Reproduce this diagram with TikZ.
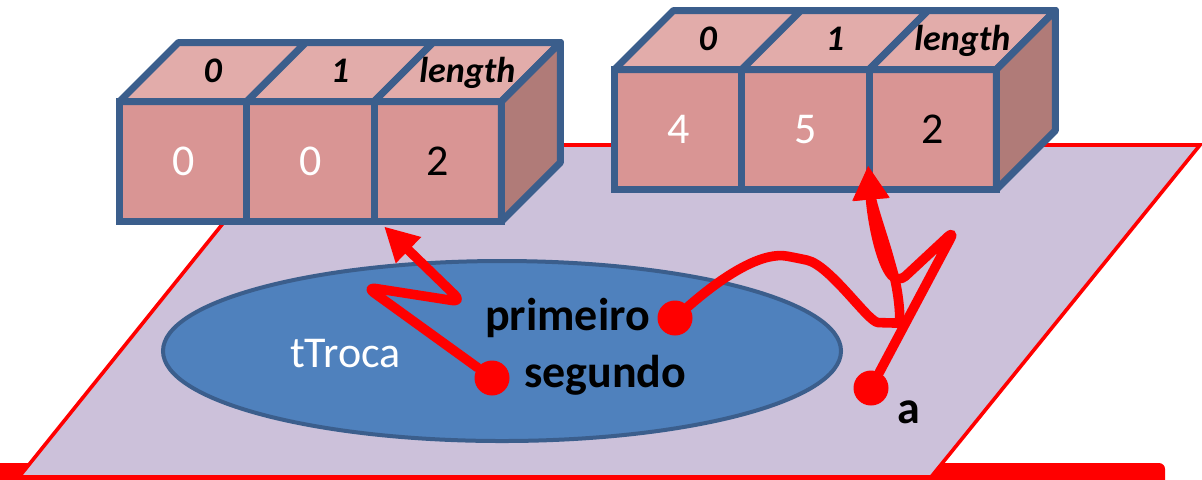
\documentclass[tikz,border=0pt]{standalone}
\usepackage{fontspec}
\setmainfont{Carlito}
\usepackage{xcolor}
\usepackage{tikz}
\usetikzlibrary{arrows.meta,shapes.geometric}
\definecolor{plano}{HTML}{CCC1DA}
\definecolor{azulElipse}{HTML}{4F81BD}
\definecolor{bordaAzul}{HTML}{3B5E8C}
\definecolor{frente}{HTML}{D99594}
\definecolor{topo}{HTML}{E2ACAA}
\definecolor{lateral}{HTML}{B07B78}
\tikzset{celula/.style={rectangle, draw=bordaAzul, fill=frente, line width=3.5pt, minimum width=63.65pt, minimum height=60pt, inner sep=0pt, outer sep=0pt, font=\fontsize{22}{26}\selectfont},
faceta/.style={draw=bordaAzul, fill=#1, line width=3.5pt, line join=round},
rotulo/.style={anchor=base, font=\fontsize{18}{22}\selectfont\bfseries\itshape},
%ponteiro: bolinha vermelha
ponto/.style={circle, fill=red, minimum size=17.5pt, inner sep=0pt},
seta/.style={draw=red, line width=4.8pt, line cap=round, line join=round, rounded corners=5pt, -{Triangle[length=17pt,width=17pt]}},
nome/.style={font=\fontsize{23}{27}\selectfont\bfseries}}

\begin{document}
\begin{tikzpicture}[x=0.5pt, y=-0.5pt]
\clip (0,0) rectangle (1202,479);
%\draw[step=50,color=gray] (0,0) grid (1202,479);
\fill[red, rounded corners=3pt] (-20,463) rectangle (1165,500);
\draw[red, line width=1.8pt, fill=plano] (286,145) -- (1200,145) -- (931,477) -- (19,477) -- cycle;
\node[ellipse, draw=bordaAzul, fill=azulElipse, line width=2pt, minimum width=339pt, minimum height=90pt] (tTroca) at (502,351) {};
\node[anchor=base west, text=white, font=\fontsize{22}{26}\selectfont] (rotTroca) at (283,367) {tTroca};

% vetor da esquerda
\foreach \i/\val/\cor in {0/0/white,1/0/white,2/2/black}
  \node[celula, text=\cor] (vetA-\i) at (183.15+127.3*\i,161.5) {\val};
\foreach \i/\lab in {0/0,1/1,2/length}{
  \draw[faceta=topo] (vetA-\i.north west) -- (vetA-\i.north east) -- ++(59,-59) -- ++(-127.3,0) -- cycle;
  \node[rotulo] at ([shift={(29.5,-19.5)}]vetA-\i.north) {\lab};
}
\draw[faceta=lateral] (vetA-2.north east) -- ++(59,-59) -- ++(0,120) -- (vetA-2.south east) -- cycle;

% vetor da direita
\foreach \i/\val/\cor in {0/4/white,1/5/white,2/2/black}
  \node[celula, text=\cor] (vetB-\i) at (678.15+127.3*\i,129.5) {\val};
\foreach \i/\lab in {0/0,1/1,2/length}{
  \draw[faceta=topo] (vetB-\i.north west) -- (vetB-\i.north east) -- ++(59,-59) -- ++(-127.3,0) -- cycle;
  \node[rotulo] at ([shift={(29.5,-19.5)}]vetB-\i.north) {\lab};
}
\draw[faceta=lateral] (vetB-2.north east) -- ++(59,-59) -- ++(0,120) -- (vetB-2.south east) -- cycle;

\node[ponto] (pPrimeiro) at (675,318) {};
\node[ponto] (pSegundo) at (492,378) {};
\node[ponto] (pA) at (871,388) {};
\node[nome, anchor=base east] (rotPrimeiro) at (657,330) {primeiro};
\node[nome, anchor=base west] (rotSegundo) at (517,387) {segundo};
\node[nome, anchor=base west] (rotA) at (890,423) {a};

\coordinate (alvoA) at ([shift={(10,5)}]vetA-2.south west);
\coordinate (alvoB) at ([shift={(-1,-24)}]vetB-2.south west);
\draw[seta] (pSegundo) -- (366,287) -- (462,302) -- (alvoA);
\draw[seta] (pA) -- (955,230) -- (898,283) .. controls (880,262) and (872,220) .. (alvoB);
\draw[seta] (pPrimeiro) .. controls (730,270) and (765,252) .. (797,258) .. controls (830,265) and (868,322) .. (888,323) .. controls (902,323) and (898,290) .. (891,265) .. controls (884,240) and (872,205) .. (alvoB);
\end{tikzpicture}
\end{document}
